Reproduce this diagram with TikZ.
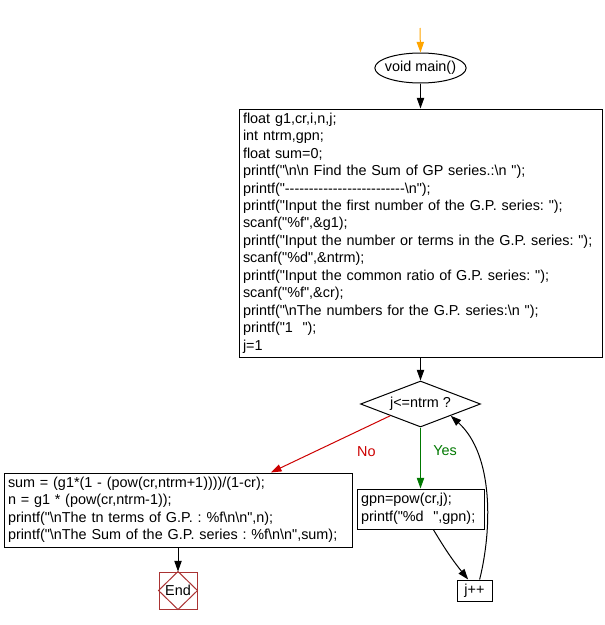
\documentclass[tikz,border=0pt]{standalone}
\usepackage{fontspec}
\newfontfamily\flowfont{Liberation Sans}
\definecolor{gpOrange}{RGB}{255, 165,   0}
\definecolor{gpRed}   {RGB}{204,   0,   0}
\definecolor{gpGreen} {RGB}{  0, 120,   0}
\definecolor{gpBrick} {RGB}{170,  51,  51}
\usetikzlibrary{
  arrows.meta,
  shapes.geometric,
}
\newcommand\cbs{\textbackslash}

\begin{document}
\begin{tikzpicture}[
  x=0.75pt, y=-0.75pt,
  >={Triangle[length=8pt,width=5.5pt]},
  base/.style={font=\flowfont\fontsize{10.8}{13.1}\selectfont\frenchspacing,
               text=black},
  proc/.style={base, draw, line width=0.75pt, inner xsep=3pt, inner ysep=0pt,
               align=left},
  term/.style={base, draw, ellipse, line width=0.75pt, inner xsep=-2.5pt,
               inner ysep=0pt, minimum width=68.25pt, minimum height=22.5pt},
  decide/.style={base, draw, diamond, aspect=2.6, line width=0.75pt,
                 inner sep=0pt, minimum width=90pt, minimum height=34.5pt},
  stopbox/.style={base, draw=gpBrick, line width=0.75pt, inner sep=0pt,
                  minimum width=28.5pt, minimum height=27.75pt},
  flow/.style={->, line width=0.75pt},
  lbl/.style={base},
]
  \useasboundingbox (0,0) rectangle (604,625);

  % Entry and declarations down the right column
  \coordinate (entry) at (420,28);
  \node[term] (main) at (420.5,68) {void main()};
  \node[proc, text width=266.25pt, minimum height=186pt] (decl) at (420.5,233)
    {float g1,cr,i,n,j;\\
     int ntrm,gpn;\\
     float sum=0;\\
     printf("\cbs n\cbs n Find the Sum of GP series.:\cbs n ");\\
     printf("-------------------------\cbs n");\\
     printf("Input the first number of the G.P. series: ");\\
     scanf("\%f",\&g1);\\
     printf("Input the number or terms in the G.P. series: ");\\
     scanf("\%d",\&ntrm);\\
     printf("Input the common ratio of G.P. series: ");\\
     scanf("\%f",\&cr);\\
     printf("\cbs nThe numbers for the G.P. series:\cbs n ");\\
     printf("1\ \ ");\\
     j=1};

  % Loop test, body and increment
  \node[decide] (test) at (420.5,404) {j<=ntrm ?};
  \node[proc, text width=89.25pt, minimum height=30pt] (body) at (420.5,509)
    {gpn=pow(cr,j);\\
     printf("\%d\ \ ",gpn);};
  \node[proc, align=center, inner xsep=0pt, minimum width=26.25pt,
        minimum height=15.75pt] (inc) at (474.5,590.5) {j++};

  % Results on the left, then the end mark
  \node[proc, text width=255pt, minimum height=55.5pt] (sum) at (178,510)
    {sum = (g1*(1 - (pow(cr,ntrm+1))))/(1-cr);\\
     n = g1 * (pow(cr,ntrm-1));\\
     printf("\cbs nThe tn terms of G.P. : \%f\cbs n\cbs n",n);\\
     printf("\cbs nThe Sum of the G.P. series : \%f\cbs n\cbs n",sum);};
  \node[stopbox] (finish) at (178,590.5) {End};
  \draw[gpBrick, line width=0.75pt]
    (finish.west) -- (finish.north) -- (finish.east) -- (finish.south) -- cycle;

  % Connectors
  \draw[flow, gpOrange] (entry) -- (main.north);
  \draw[flow] (main.south) -- (decl.north);
  \draw[flow] (decl.south) -- (test.north);
  \draw[flow, gpGreen] (test.south) -- (body.north)
    node[lbl, text=gpGreen, pos=0.38, right=6pt] {Yes};
  \draw[flow, gpRed] (test.south west) -- (sum.22)
    node[lbl, text=gpRed, pos=0.2, below=11pt] {No};
  \draw[flow] (sum.south) -- (finish.north);
  \draw[flow] (body.-58) to[bend right=4] (inc.120);
  \draw[flow] (inc.65) .. controls (492,530) and (494,455) .. (test.south east);
\end{tikzpicture}
\end{document}
